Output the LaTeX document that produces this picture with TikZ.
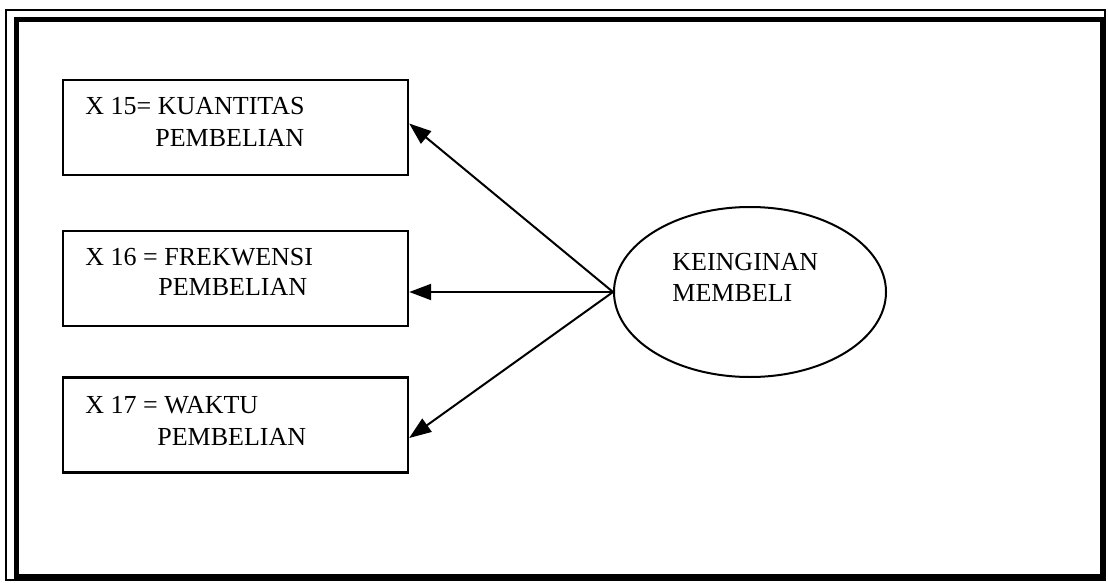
\documentclass[tikz,border=0pt]{standalone}
\usepackage{fontspec}
\setmainfont{Liberation Serif}
\usetikzlibrary{arrows.meta,calc,shapes.geometric}
\begin{document}
\begin{tikzpicture}[x=0.5pt,y=-0.5pt,
  indicator/.style={draw,line width=1.2pt,rectangle,inner sep=0pt,
    minimum width=172.5pt,minimum height=47.5pt},
  latent/.style={draw,line width=1pt,ellipse,inner sep=0pt,
    minimum width=136pt,minimum height=85pt},
  label/.style={anchor=base west,inner sep=0pt,font=\fontsize{13pt}{15pt}\selectfont},
  link/.style={line width=1pt,-{Triangle[length=11pt,width=8pt]}}]
\useasboundingbox (0,0) rectangle (1108,583);
% double frame
\draw[line width=0.75pt] (6,10) rectangle (1105,580);
\draw[line width=2.5pt] (16,20) rectangle (1102,576);
% indicator boxes
\node[indicator] (b1) at (235.5,127.5) {};
\node[indicator] (b2) at (235.5,278.5) {};
\node[indicator] (b3) at (235.5,425) {};
\node[label] (t1a) at (85,115) {X 15= KUANTITAS};
\node[label] (t1b) at (155,147) {PEMBELIAN};
\node[label] (t2a) at (85,265) {X 16 = FREKWENSI};
\node[label] (t2b) at (158,295) {PEMBELIAN};
\node[label] (t3a) at (85,413) {X 17 = WAKTU};
\node[label] (t3b) at (157,445) {PEMBELIAN};
% latent construct
\node[latent] (k) at (750,292) {};
\node[label] (ka) at (672,270) {KEINGINAN};
\node[label] (kb) at (672,301) {MEMBELI};
% loadings
\draw[link] (k.west) -- ($(b1.east)+(0,-4)$);
\draw[link] (k.west) -- (b2.east |- k.west);
\draw[link] (k.west) -- ($(b3.east)+(0,13)$);
\end{tikzpicture}
\end{document}
